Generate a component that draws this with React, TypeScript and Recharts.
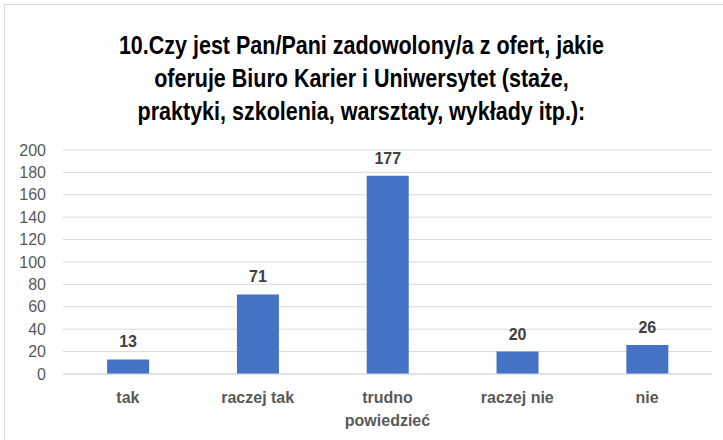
import { BarChart, Bar, XAxis, YAxis, CartesianGrid, LabelList } from 'recharts'

const categories = ['tak', 'raczej tak', 'trudno powiedzieć', 'raczej nie', 'nie']
const counts = [13, 71, 177, 20, 26]
const yTicks = [0, 20, 40, 60, 80, 100, 120, 140, 160, 180, 200]
const titleLines = [
  '10.Czy jest Pan/Pani zadowolony/a z ofert, jakie',
  'oferuje Biuro Karier i Uniwersytet (staże,',
  'praktyki, szkolenia, warsztaty, wykłady itp.):',
]

const data = categories.map((name, i) => ({ name, value: counts[i] }))

const AXIS_FONT = '"Liberation Sans", Arial, sans-serif'

// category labels, long ones break onto two lines
function CategoryTick(props: any) {
  const { x, y, payload } = props
  const words: string[] = payload.value.split(' ')
  const lines = payload.value.length > 12 ? words : [payload.value]
  return (
    <text
      x={x}
      y={y}
      textAnchor="middle"
      fill="#595959"
      fontSize={16}
      fontWeight="bold"
      fontFamily={AXIS_FONT}
    >
      {lines.map((line, i) => (
        <tspan key={i} x={x} dy={i === 0 ? 21 : 23}>
          {line}
        </tspan>
      ))}
    </text>
  )
}

export default function App() {
  return (
    <div style={{ position: 'absolute', left: 0, top: 0, width: 723, height: 440, background: '#fff', overflow: 'hidden' }}>
      {/* chart border */}
      <div
        style={{
          position: 'absolute',
          left: 4,
          top: 4,
          width: 740,
          height: 460,
          border: '1px solid #d9d9d9',
        }}
      />
      {/* title - squeezed a little to get the narrow look of the original */}
      <div
        style={{
          position: 'absolute',
          left: 0,
          top: 29,
          width: 723,
          textAlign: 'center',
          fontFamily: '"Liberation Sans", Arial, sans-serif',
          fontWeight: 'bold',
          fontSize: 25,
          lineHeight: '33px',
          color: '#000',
          transform: 'scaleX(0.86)',
          transformOrigin: '361px 0',
        }}
      >
        {titleLines.map((l, i) => (
          <div key={i}>{l}</div>
        ))}
      </div>
      <div style={{ position: 'absolute', left: 0, top: 0 }}>
        <BarChart
          width={723}
          height={440}
          data={data}
          margin={{ top: 150, right: 11, left: 13, bottom: 16 }}
          barCategoryGap="34%"
        >
          <CartesianGrid vertical={false} stroke="#d9d9d9" />
          <XAxis
            dataKey="name"
            interval={0}
            height={50}
            tickLine={false}
            axisLine={{ stroke: '#d9d9d9' }}
            tick={<CategoryTick />}
          />
          <YAxis
            width={50}
            domain={[0, 200]}
            ticks={yTicks}
            interval={0}
            axisLine={false}
            tickLine={false}
            tickMargin={11}
            tick={{ fill: '#595959', fontSize: 16, fontFamily: AXIS_FONT }}
          />
          <Bar dataKey="value" fill="#4472C4" isAnimationActive={false}>
            <LabelList
              dataKey="value"
              position="top"
              offset={12}
              fill="#404040"
              fontSize={16}
              fontWeight="bold"
              fontFamily={AXIS_FONT}
            />
          </Bar>
        </BarChart>
      </div>
    </div>
  )
}
